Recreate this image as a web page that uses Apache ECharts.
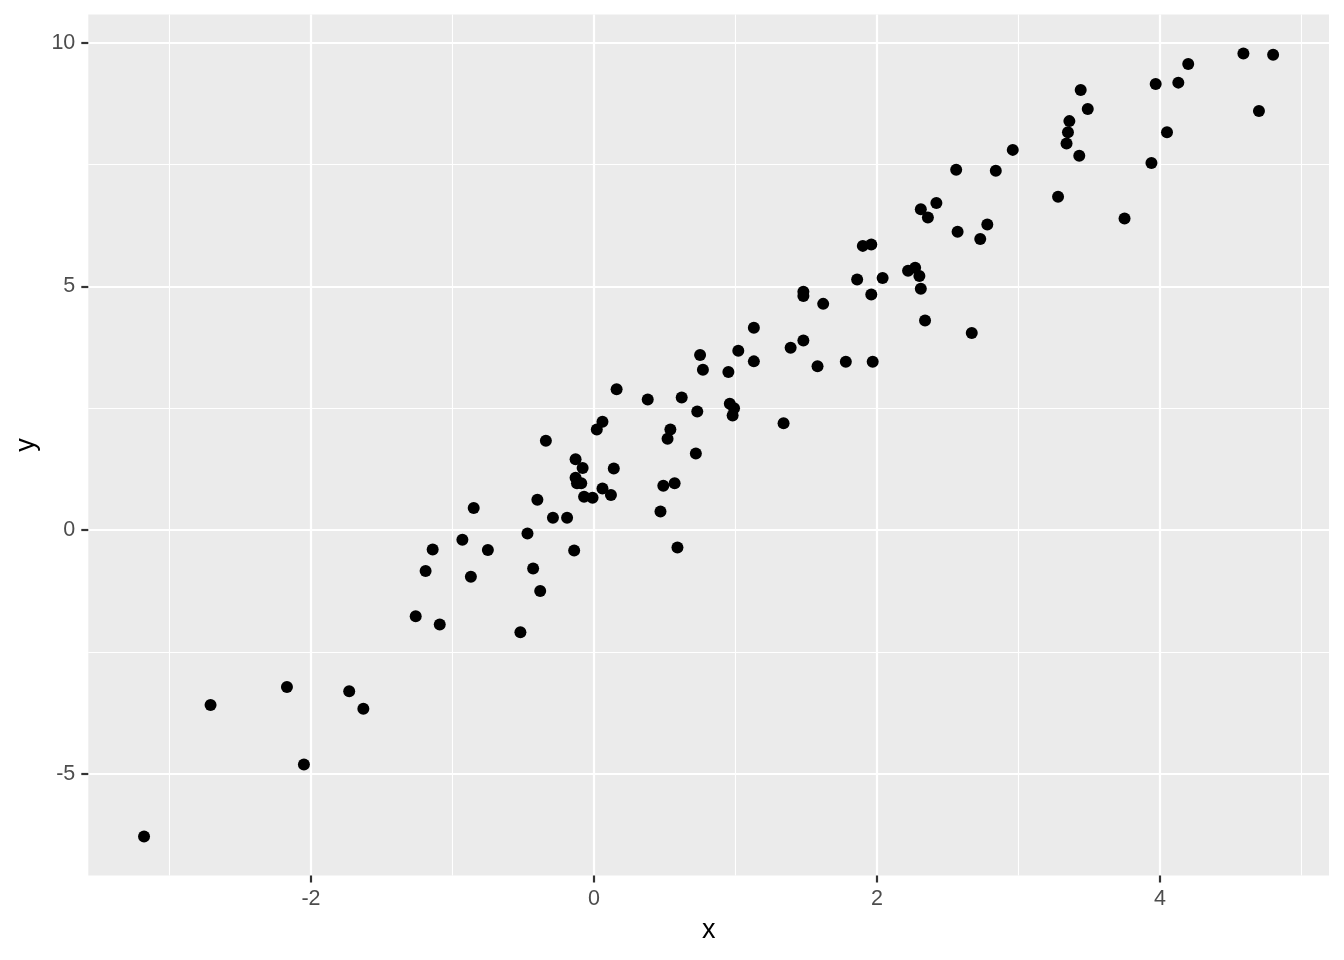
<!DOCTYPE html>
<html>
<head>
<meta charset="utf-8">
<script src="https://cdn.jsdelivr.net/npm/echarts@6/dist/echarts.min.js"></script>
<style>
html,body{margin:0;padding:0;background:#fff;}
#chart{width:1344px;height:960px;}
</style>
</head>
<body>
<div id="chart"></div>
<script>
const xValues = [
  -3.18, -2.71, -2.17, -2.05, -1.73, -1.63, 0.16, 0.38, 0.62, 0.73,
  0.06, 0.02, -0.34, -0.13, -0.08, 0.14, -0.13, -0.12, -0.09, 0.06,
  -0.07, -0.01, 0.12, 0.54, 0.52, 0.72, 0.49, 0.57, 0.47, 0.59,
  -0.40, -0.85, -0.29, -0.19, -0.47, -0.93, -1.14, -0.75, -0.14, -1.19,
  -0.87, -0.43, -0.38, -1.26, -1.09, -0.52, 2.42, 2.31, 2.36, 2.57,
  2.78, 2.73, 1.90, 1.96, 1.86, 2.04, 2.22, 2.27, 2.30, 2.31,
  1.96, 1.48, 1.48, 1.62, 2.34, 2.67, 1.13, 1.02, 1.13, 1.39,
  1.48, 1.58, 1.78, 1.97, 0.75, 0.77, 0.95, 0.96, 0.99, 0.98,
  1.34, 4.59, 4.80, 4.20, 3.97, 4.13, 3.44, 3.49, 3.36, 3.35,
  3.34, 3.43, 2.96, 2.84, 4.70, 4.05, 3.94, 3.28, 3.75, 2.56
];
const yValues = [
  -6.29, -3.59, -3.22, -4.81, -3.31, -3.67, 2.89, 2.68, 2.72, 2.43,
  2.22, 2.06, 1.83, 1.45, 1.27, 1.26, 1.07, 0.96, 0.96, 0.85,
  0.68, 0.66, 0.72, 2.06, 1.87, 1.57, 0.91, 0.96, 0.38, -0.36,
  0.62, 0.45, 0.25, 0.25, -0.07, -0.20, -0.40, -0.41, -0.42, -0.84,
  -0.96, -0.79, -1.25, -1.77, -1.94, -2.10, 6.71, 6.58, 6.41, 6.12,
  6.27, 5.97, 5.83, 5.86, 5.14, 5.17, 5.32, 5.38, 5.21, 4.95,
  4.83, 4.89, 4.80, 4.64, 4.30, 4.04, 4.15, 3.68, 3.46, 3.74,
  3.89, 3.36, 3.45, 3.45, 3.59, 3.29, 3.24, 2.59, 2.50, 2.35,
  2.19, 9.78, 9.75, 9.56, 9.15, 9.18, 9.03, 8.64, 8.39, 8.16,
  7.93, 7.68, 7.80, 7.37, 8.60, 8.16, 7.53, 6.84, 6.39, 7.39
];
const xMajorTicks = [-2, 0, 2, 4];
const xMinorTicks = [-3, -1, 1, 3, 5];
const yMajorTicks = [-5, 0, 5, 10];
const yMinorTicks = [-2.5, 2.5, 7.5];
const xRange = [-3.574, 5.195];
const yRange = [-7.09, 10.58];

const points = xValues.map((x, i) => [x, yValues[i]]);

const FONT = 'Liberation Sans, Arial, Helvetica, sans-serif';

function majorAxis(name, range, ticks, isX) {
  return {
    type: 'value',
    name: name,
    nameLocation: 'middle',
    nameGap: isX ? 42 : 46,
    nameTextStyle: {color: '#000000', fontSize: 27, fontFamily: FONT},
    min: range[0],
    max: range[1],
    axisLine: {show: false, onZero: false},
    axisTick: {show: true, length: 7, customValues: ticks, lineStyle: {color: '#333333', width: 2.2}},
    axisLabel: {show: true, customValues: ticks, margin: 13, color: '#4D4D4D', fontSize: 21.5, fontFamily: FONT},
    splitLine: {show: true, lineStyle: {color: '#FFFFFF', width: 2.2}},
    z: 2
  };
}
function minorAxis(range, ticks) {
  return {
    type: 'value',
    min: range[0],
    max: range[1],
    axisLine: {show: false, onZero: false},
    axisTick: {show: false, customValues: ticks},
    axisLabel: {show: false, customValues: ticks},
    splitLine: {show: true, lineStyle: {color: '#FFFFFF', width: 1.1}},
    z: 1
  };
}

const chart = echarts.init(document.getElementById('chart'), null, {renderer: 'canvas'});
chart.setOption({
  backgroundColor: '#FFFFFF',
  animation: false,
  grid: {
    left: 88.3, right: 15, top: 14.4, bottom: 84.5,
    show: true, backgroundColor: '#EBEBEB', borderWidth: 0,
    containLabel: false
  },
  xAxis: [majorAxis('x', xRange, xMajorTicks, true), minorAxis(xRange, xMinorTicks)],
  yAxis: [majorAxis('y', yRange, yMajorTicks, false), minorAxis(yRange, yMinorTicks)],
  series: [{
    type: 'scatter',
    xAxisIndex: 0,
    yAxisIndex: 0,
    data: points,
    symbol: 'circle',
    symbolSize: 12,
    itemStyle: {color: '#000000', opacity: 1},
    z: 5
  }]
});
</script>
</body>
</html>
